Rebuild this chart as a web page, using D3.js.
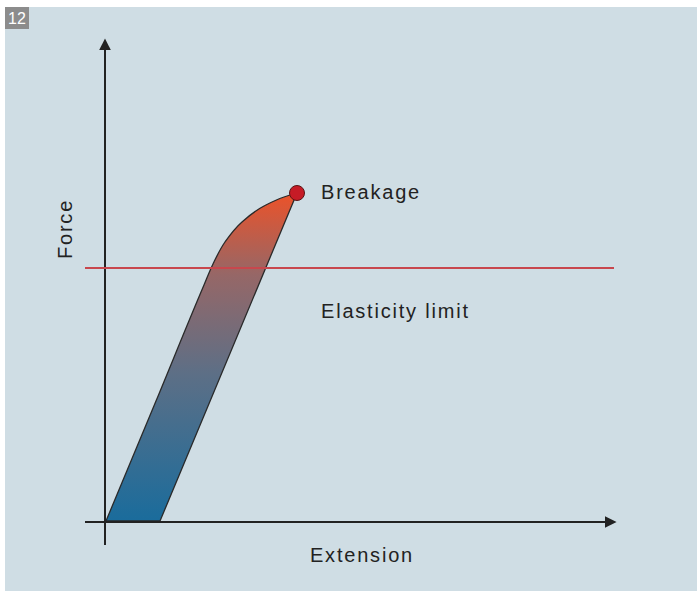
<!DOCTYPE html>
<html><head><meta charset="utf-8">
<script src="https://cdn.jsdelivr.net/npm/d3@7"></script>
<style>html,body{margin:0;padding:0;background:#fff;}svg{display:block;}</style>
</head><body>
<script>
// Data (arbitrary units: extension, force)
const leftEdge = [[0,0],[10,24],[19.6,47.2],[21.4,51.4],[23.8,55.8],[27.2,59.8],[31.6,63.0],[35.6,64.8],[38.2,65.6]];
const rightEdge = [[38.2,65.6],[10.8,0]];
const breakage = {x:38.2, y:65.6, label:"Breakage"};
const elasticLimit = {y:50.6, label:"Elasticity limit"};
const axisLabels = {x:"Extension", y:"Force"};
const badge = "12";

const W=698,H=592;
const svg=d3.select("body").append("svg").attr("width",W).attr("height",H);
const x=d3.scaleLinear().domain([0,100]).range([106,606]);
const y=d3.scaleLinear().domain([0,100]).range([521,21]);

svg.append("rect").attr("x",5).attr("y",7).attr("width",692).attr("height",584).attr("fill","#cfdde4");
svg.append("rect").attr("x",5).attr("y",7).attr("width",24).attr("height",22).attr("fill","#8c8c8c");
svg.append("text").attr("x",17).attr("y",24).attr("text-anchor","middle").attr("fill","#fff")
  .attr("font-family","Liberation Sans Narrow, Liberation Sans, sans-serif").attr("font-size",16).text(badge);

const defs=svg.append("defs");
const g=defs.append("linearGradient").attr("id","grad").attr("gradientUnits","userSpaceOnUse")
  .attr("x1",0).attr("x2",0).attr("y1",y(0)).attr("y2",y(breakage.y));
g.append("stop").attr("offset","0%").attr("stop-color","#1a6c9c");
g.append("stop").attr("offset","45%").attr("stop-color","#5d6f86");
g.append("stop").attr("offset","75%").attr("stop-color","#966767");
g.append("stop").attr("offset","100%").attr("stop-color","#ec5229");
["arrowY","arrowX"].forEach(id=>{
  defs.append("marker").attr("id",id).attr("viewBox","0 0 10 10").attr("refX",2).attr("refY",5)
   .attr("markerWidth",6).attr("markerHeight",6).attr("markerUnits","strokeWidth").attr("orient","auto")
   .append("path").attr("d","M0,0 L10,5 L0,10 Z").attr("fill","#222");
});

// shape path
const lineGen=d3.line().x(d=>x(d[0])).y(d=>y(d[1])).curve(d3.curveMonotoneY);
const pLeft=lineGen(leftEdge);
const shape = pLeft + " L" + x(rightEdge[1][0]) + "," + y(rightEdge[1][1]) + " Z";
svg.append("path").attr("d",shape).attr("fill","url(#grad)").attr("stroke","#2a2a2a").attr("stroke-width",1.3).attr("stroke-linejoin","round");

// axes
svg.append("line").attr("x1",x(0)-1).attr("x2",x(0)-1).attr("y1",545).attr("y2",48)
  .attr("stroke","#222").attr("stroke-width",2).attr("marker-end","url(#arrowY)");
svg.append("line").attr("x1",85).attr("x2",607).attr("y1",y(0)+1).attr("y2",y(0)+1)
  .attr("stroke","#222").attr("stroke-width",2).attr("marker-end","url(#arrowX)");

// elastic limit
svg.append("line").attr("x1",85).attr("x2",614).attr("y1",y(elasticLimit.y)).attr("y2",y(elasticLimit.y))
  .attr("stroke","#c8474d").attr("stroke-width",2);

// breakage point
svg.append("circle").attr("cx",x(breakage.x)).attr("cy",y(breakage.y)).attr("r",7.5)
  .attr("fill","#c61b26").attr("stroke","#5a1515").attr("stroke-width",1);

const font="Liberation Sans, Arial, sans-serif";
const fs=20, ls=1.8;
svg.append("text").attr("x",321).attr("y",199).attr("font-family",font).attr("font-size",fs)
  .attr("letter-spacing",ls).attr("fill","#222").text(breakage.label);
svg.append("text").attr("x",321).attr("y",318).attr("font-family",font).attr("font-size",fs)
  .attr("letter-spacing",ls).attr("fill","#222").text(elasticLimit.label);
svg.append("text").attr("x",362).attr("y",562).attr("text-anchor","middle").attr("font-family",font).attr("font-size",fs)
  .attr("letter-spacing",ls).attr("fill","#222").text(axisLabels.x);
svg.append("text").attr("transform","translate(72,229) rotate(-90)").attr("text-anchor","middle").attr("font-family",font).attr("font-size",fs)
  .attr("letter-spacing",ls).attr("fill","#222").text(axisLabels.y);
</script>
</body></html>
